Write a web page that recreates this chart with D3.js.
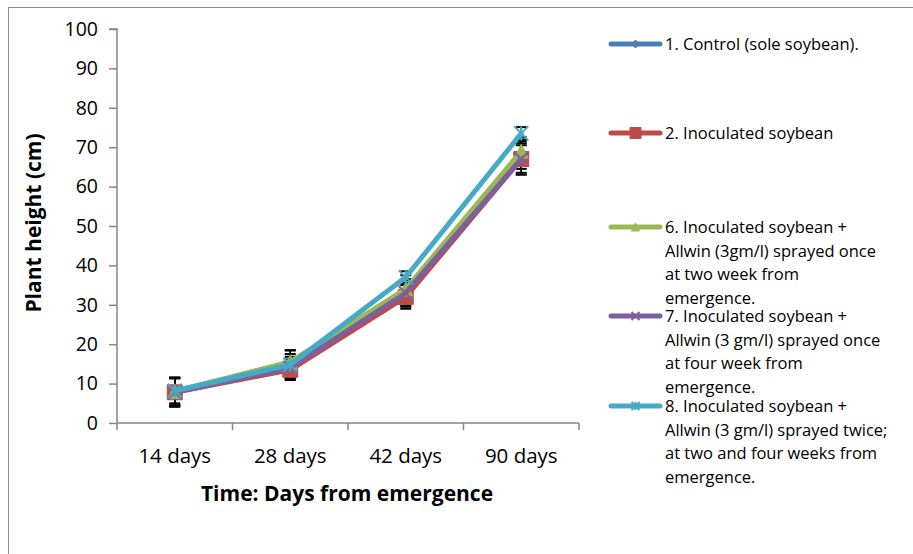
<!DOCTYPE html>
<html>
<head>
<meta charset="utf-8">
<script src="https://cdn.jsdelivr.net/npm/d3@7"></script>
<style>
  html, body { margin: 0; padding: 0; background: #fff; }
  svg { display: block; }
</style>
</head>
<body>
<svg id="chart" width="913" height="554"></svg>
<script>
// Sampling dates (x categories)
const categories = ["14 days", "28 days", "42 days", "90 days"];
const yTicks = [0, 10, 20, 30, 40, 50, 60, 70, 80, 90, 100];

// Mean plant height (cm) per treatment
const control     = [8.0, 14.5, 33.0, 68.0];
const inoculated  = [7.8, 13.5, 32.0, 67.0];
const allwinTwoWk = [8.0, 15.5, 34.0, 69.0];
const allwinFourWk= [7.8, 14.0, 33.0, 67.0];
const allwinTwice = [8.2, 14.8, 37.0, 73.5];

// Standard errors
const controlErr     = [3.5, 3.0, 3.5, 3.5];
const inoculatedErr  = [3.7, 2.6, 3.0, 4.0];
const allwinTwoWkErr = [3.5, 3.0, 3.5, 3.5];
const allwinFourWkErr= [3.5, 2.8, 3.2, 3.5];
const allwinTwiceErr = [3.2, 3.6, 1.5, 1.6];

const seriesNames = [
  ["1. Control (sole soybean)."],
  ["2. Inoculated soybean"],
  ["6. Inoculated soybean +", "Allwin (3gm/l) sprayed once", "at two week from", "emergence."],
  ["7. Inoculated soybean +", "Allwin (3 gm/l) sprayed once", "at four week from", "emergence."],
  ["8. Inoculated soybean +", "Allwin (3 gm/l) sprayed twice;", "at two and four weeks from", "emergence."]
];
const seriesColors = ["#4a7ebb", "#be4b48", "#98b954", "#7d60a0", "#46aac5"];
const seriesMarkers = ["diamond", "square", "triangle", "x", "star"];

const seriesValues = [control, inoculated, allwinTwoWk, allwinFourWk, allwinTwice];
const seriesErrors = [controlErr, inoculatedErr, allwinTwoWkErr, allwinFourWkErr, allwinTwiceErr];

const series = seriesValues.map((v, i) => ({
  names: seriesNames[i], color: seriesColors[i], marker: seriesMarkers[i],
  values: v, errors: seriesErrors[i]
}));

const font = "'Open Sans', sans-serif";
const svg = d3.select("#chart");

// Chart area frame
svg.append("rect")
  .attr("x", 8.5).attr("y", 7.5).attr("width", 1000).attr("height", 1000)
  .attr("fill", "none").attr("stroke", "#8c8c8c").attr("stroke-width", 1);

const plot = { left: 117, right: 579, top: 29, bottom: 423 };

const x = d3.scaleBand().domain(categories).range([plot.left, plot.right]).padding(0);
const y = d3.scaleLinear().domain([0, 100]).range([plot.bottom, plot.top]);
const cx = c => x(c) + x.bandwidth() / 2;

// Y axis
const yAxis = svg.append("g")
  .attr("transform", `translate(${plot.left},0)`)
  .call(d3.axisLeft(y).tickValues(yTicks).tickSize(8).tickPadding(11).tickFormat(d3.format("d")));
yAxis.select(".domain").attr("stroke", "#868686").attr("stroke-width", 1.5).attr("d", `M-8,${plot.top}H0V${plot.bottom}`);
yAxis.selectAll(".tick line").attr("stroke", "#868686").attr("stroke-width", 1.5);
yAxis.selectAll(".tick text").attr("font-family", font).attr("font-size", 19.5).attr("fill", "#000");

// X axis with ticks on category boundaries
const xg = svg.append("g").attr("transform", `translate(0,${plot.bottom})`);
xg.append("line").attr("x1", plot.left).attr("x2", plot.right)
  .attr("stroke", "#868686").attr("stroke-width", 1.5);
const bounds = categories.map(c => x(c)).concat([plot.right]);
xg.selectAll("line.tk").data(bounds).join("line").attr("class", "tk")
  .attr("x1", d => d).attr("x2", d => d).attr("y1", 0).attr("y2", 7)
  .attr("stroke", "#868686").attr("stroke-width", 1.5);
xg.selectAll("text").data(categories).join("text")
  .attr("x", d => cx(d)).attr("y", 40)
  .attr("text-anchor", "middle").attr("font-family", font).attr("font-size", 20.5)
  .text(d => d);

// Axis titles
svg.append("text")
  .attr("x", (plot.left + plot.right) / 2 - 1).attr("y", 501)
  .attr("text-anchor", "middle").attr("font-family", font).attr("font-size", 21)
  .attr("font-weight", "bold").text("Time: Days from emergence");
svg.append("text")
  .attr("transform", `translate(41,${(plot.top + plot.bottom) / 2 - 3}) rotate(-90)`)
  .attr("text-anchor", "middle").attr("font-family", font).attr("font-size", 21)
  .attr("font-weight", "bold").text("Plant height (cm)");

// Marker shapes
function markerPath(type, s) {
  const h = s / 2;
  switch (type) {
    case "diamond": return `M0,${-h}L${h},0L0,${h}L${-h},0Z`;
    case "square": return `M${-h},${-h}H${h}V${h}H${-h}Z`;
    case "triangle": return `M0,${-h}L${h},${h}L${-h},${h}Z`;
    case "x": return `M${-h},${-h}L${h},${h}M${h},${-h}L${-h},${h}`;
    case "star": return `M${-h},${-h}L${h},${h}M${h},${-h}L${-h},${h}M0,${-h}V${h}`;
  }
}
function drawMarker(g, type, color, px, py, s) {
  const filled = type === "diamond" || type === "square" || type === "triangle";
  g.append("path")
    .attr("transform", `translate(${px},${py})`)
    .attr("d", markerPath(type, s))
    .attr("fill", filled ? color : "none")
    .attr("stroke", color).attr("stroke-width", filled ? 1 : 2);
}

const line = d3.line().x((d, i) => cx(categories[i])).y(d => y(d));
const markerSize = { diamond: 12, square: 15, triangle: 14, x: 14, star: 14 };

// Error bars sit beneath the series lines and markers
const errLayer = svg.append("g");
series.forEach(s => {
  s.values.forEach((v, i) => {
    const px = cx(categories[i]);
    const top = y(v + s.errors[i]), bot = y(v - s.errors[i]);
    errLayer.append("line").attr("x1", px).attr("x2", px).attr("y1", top).attr("y2", bot)
      .attr("stroke", "#000").attr("stroke-width", 1.5);
    [top, bot].forEach(yy => errLayer.append("line")
      .attr("x1", px - 5.5).attr("x2", px + 5.5).attr("y1", yy).attr("y2", yy)
      .attr("stroke", "#000").attr("stroke-width", 2));
  });
});

series.forEach(s => {
  const g = svg.append("g");
  g.append("path").datum(s.values).attr("d", line)
    .attr("fill", "none").attr("stroke", s.color).attr("stroke-width", 5)
    .attr("stroke-linejoin", "round").attr("stroke-linecap", "round");
  s.values.forEach((v, i) => drawMarker(g, s.marker, s.color, cx(categories[i]), y(v), markerSize[s.marker]));
});

// Legend
const legendY = [44, 133, 227, 316, 406];
const lg = svg.append("g");
series.forEach((s, i) => {
  const ly = legendY[i];
  lg.append("line").attr("x1", 611).attr("x2", 660).attr("y1", ly).attr("y2", ly)
    .attr("stroke", s.color).attr("stroke-width", 5).attr("stroke-linecap", "round");
  drawMarker(lg, s.marker, s.color, 635.5, ly, s.marker === "square" ? 11 : 8);
  const t = lg.append("text").attr("font-family", font).attr("font-size", 16.5).attr("fill", "#000");
  s.names.forEach((n, k) => t.append("tspan").attr("x", 665).attr("y", ly + 6 + k * 23.7).text(n));
});
</script>
</body>
</html>
